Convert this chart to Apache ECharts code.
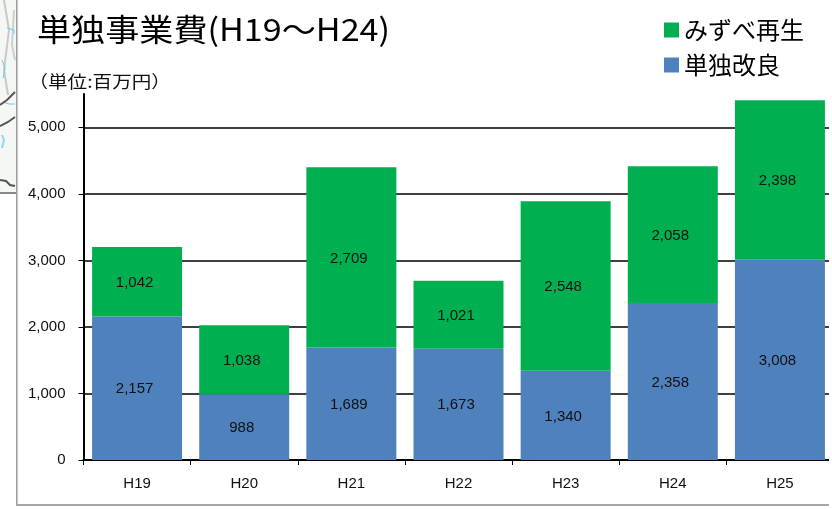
<!DOCTYPE html>
<html>
<head>
<meta charset="utf-8">
<style>
html,body{margin:0;padding:0;background:#fff;}
#main{width:832px;height:509px;}
</style>
<script src="https://cdn.jsdelivr.net/npm/echarts@6/dist/echarts.min.js"></script>
</head>
<body>
<div id="main"></div>
<script>
var categories = ['H19','H20','H21','H22','H23','H24','H25'];
var kairyo = [2157,988,1689,1673,1340,2358,3008];
var mizube = [1042,1038,2709,1021,2548,2058,2398];
var yTicks = [0,1000,2000,3000,4000,5000];
var mizubeName = 'みずべ再生';
var kairyoName = '単独改良';
var titleText = '単独事業費(H19～H24)';
var unitText = '（単位:百万円）';
var jpFont = '"Noto Sans CJK JP", sans-serif';
var numFont = '"Liberation Sans", Arial, sans-serif';

var myChart = echarts.init(document.getElementById('main'));

function barLabel(){
    return {
        show:true,
        position:'inside',
        offset:[-2.5,1],
        color:'#111',
        fontFamily:numFont,
        fontSize:15,
        formatter:function(p){ return p.value.toLocaleString('en-US'); }
    };
}

// small helper for the scrap of map at the left edge
function mapLine(points,color,w){
    return {type:'polyline',z:101,shape:{points:points},style:{stroke:color,lineWidth:w,fill:null}};
}

var option = {
    animation:false,
    backgroundColor:'#fff',
    grid:{left:83.5,top:94,width:750,height:366,containLabel:false,outerBoundsMode:'none'},
    legend:{
        left:664,top:18,orient:'vertical',itemWidth:15,itemHeight:15,itemGap:11,
        icon:'rect',padding:0,
        data:[mizubeName,kairyoName],
        textStyle:{fontFamily:jpFont,fontSize:24,color:'#000'}
    },
    xAxis:{
        type:'category',
        data:categories,
        axisLine:{lineStyle:{color:'#000',width:2}},
        axisTick:{show:true,length:5,lineStyle:{color:'#000',width:1}},
        axisLabel:{color:'#111',fontFamily:numFont,fontSize:15,margin:16}
    },
    yAxis:{
        type:'value',
        min:0,
        max:5500,
        interval:1000,
        axisLine:{show:true,lineStyle:{color:'#000',width:2}},
        axisTick:{show:true,length:5,customValues:yTicks,lineStyle:{color:'#000',width:1}},
        axisLabel:{color:'#111',fontFamily:numFont,fontSize:15,margin:18,customValues:yTicks,
            formatter:function(v){ return v.toLocaleString('en-US'); }},
        splitLine:{show:true,lineStyle:{color:'#000',width:1.5}}
    },
    series:[
        {name:kairyoName,type:'bar',stack:'total',data:kairyo,barWidth:90,
         itemStyle:{color:'#4f81bd'},label:barLabel()},
        {name:mizubeName,type:'bar',stack:'total',data:mizube,barWidth:90,
         itemStyle:{color:'#00b050'},label:barLabel()}
    ],
    graphic:[
        // the reference is stretched sideways, so the headings are too
        {type:'text',x:37,y:29,scaleX:1.1,style:{text:titleText,fontFamily:jpFont,fontSize:31,fill:'#000',verticalAlign:'middle'}},
        {type:'text',x:28.5,y:82,scaleX:1.15,style:{text:unitText,fontFamily:jpFont,fontSize:17,fill:'#111',verticalAlign:'middle'}},
        {type:'rect',z:100,shape:{x:829,y:0,width:3,height:509},style:{fill:'#fff'}},
        {type:'rect',z:100,shape:{x:0,y:0,width:16,height:192},style:{fill:'#f5f7f5'}},
        mapLine([[4,0],[9,30],[4,70],[8,95]],'#c9c9c9',2),
        mapLine([[14,10],[12,45],[15,60]],'#cfcfcf',2),
        mapLine([[7,28],[14,30],[14,34]],'#6ccbee',1),
        mapLine([[2,60],[5,68],[3,78]],'#6ccbee',1),
        mapLine([[3,102],[9,104],[15,104]],'#6ccbee',1),
        mapLine([[2,135],[4,140],[2,148]],'#8fd8f0',2),
        mapLine([[0,105],[7,100],[15,92]],'#555',2),
        mapLine([[0,126],[8,122],[15,117]],'#555',2),
        mapLine([[0,180],[6,181],[10,185],[15,186]],'#555',2),
        {type:'rect',z:101,shape:{x:0,y:192,width:16,height:2},style:{fill:'#8a8a8a'}},
        {type:'rect',z:102,shape:{x:16,y:0,width:1.5,height:505},style:{fill:'#9a9a9a'}},
        {type:'rect',z:102,shape:{x:16,y:504,width:813,height:2},style:{fill:'#a6a6a6'}}
    ]
};
myChart.setOption(option);
window.onresize = myChart.resize;
</script>
</body>
</html>
